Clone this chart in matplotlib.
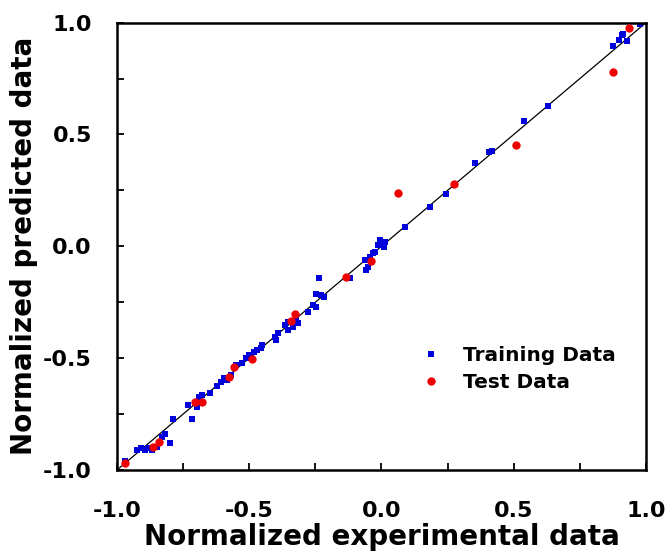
import numpy as np
import matplotlib
matplotlib.use('Agg')
import matplotlib.pyplot as plt
from matplotlib.ticker import MultipleLocator

plt.rcParams['font.family'] = ['DejaVu Sans']
plt.rcParams['font.weight'] = 'bold'

# training data (normalized experimental, normalized predicted)
train_x = [-0.970, -0.925, -0.910, -0.895, -0.884, -0.869, -0.850, -0.831, -0.820, -0.798,
           -0.790, -0.730, -0.715, -0.697, -0.689, -0.678, -0.648, -0.622, -0.607, -0.596,
           -0.584, -0.569, -0.551, -0.528, -0.513, -0.502, -0.494, -0.483, -0.472, -0.457,
           -0.453, -0.401, -0.390, -0.397, -0.363, -0.352, -0.352, -0.333, -0.322, -0.315,
           -0.277, -0.258, -0.247, -0.236, -0.247, -0.228, -0.217, -0.120, -0.064, -0.060,
           -0.052, -0.045, -0.034, -0.026, -0.015, -0.007, 0.004, 0.015, -0.004, 0.011,
           0.090, 0.184, 0.243, 0.352, 0.408, 0.416, 0.539, 0.629, 0.876, 0.899,
           0.910, 0.929, 0.914, 0.978]
train_y = [-0.960, -0.911, -0.902, -0.911, -0.902, -0.911, -0.897, -0.853, -0.839, -0.879,
           -0.772, -0.710, -0.772, -0.719, -0.674, -0.665, -0.656, -0.625, -0.607, -0.589,
           -0.598, -0.576, -0.531, -0.522, -0.500, -0.487, -0.487, -0.473, -0.464, -0.455,
           -0.442, -0.406, -0.388, -0.420, -0.353, -0.339, -0.375, -0.362, -0.321, -0.344,
           -0.295, -0.263, -0.272, -0.143, -0.214, -0.219, -0.228, -0.143, -0.063, -0.107,
           -0.094, -0.049, -0.031, -0.027, 0.004, 0.027, 0.013, 0.018, 0.004, -0.004,
           0.085, 0.174, 0.232, 0.371, 0.420, 0.424, 0.558, 0.625, 0.897, 0.924,
           0.946, 0.920, 0.951, 0.996]

# test data
test_x = [-0.970, -0.865, -0.843, -0.704, -0.678, -0.577, -0.558, -0.491, -0.341, -0.326,
          -0.135, -0.041, 0.064, 0.273, 0.509, 0.876, 0.936]
test_y = [-0.969, -0.897, -0.875, -0.696, -0.696, -0.585, -0.540, -0.504, -0.335, -0.304,
          -0.138, -0.067, 0.237, 0.277, 0.455, 0.781, 0.978]

fig = plt.figure(figsize=(6.7, 5.57), dpi=100)
ax = fig.add_axes([0.1746, 0.1562, 0.7896, 0.8032])

ax.plot([-1, 1], [-1, 1], color='black', lw=0.9, zorder=1)
ax.plot(train_x, train_y, 's', color='#0000dd', ms=5, mew=0, label='Training Data', zorder=2)
ax.plot(test_x, test_y, 'o', color='#ee0000', ms=6, mew=0, label='Test Data', zorder=3)

ax.set_xlim(-1, 1)
ax.set_ylim(-1, 1)
ax.xaxis.set_major_locator(MultipleLocator(0.5))
ax.yaxis.set_major_locator(MultipleLocator(0.5))
ax.xaxis.set_minor_locator(MultipleLocator(0.25))
ax.yaxis.set_minor_locator(MultipleLocator(0.25))
ax.xaxis.set_major_formatter(plt.FormatStrFormatter('%.1f'))
ax.yaxis.set_major_formatter(plt.FormatStrFormatter('%.1f'))
ax.tick_params(which='both', direction='in', length=5, width=1.3, labelsize=16)
ax.tick_params(axis='y', pad=18)
ax.tick_params(axis='x', pad=22)
for s in ax.spines.values():
    s.set_linewidth(1.8)

ax.set_xlabel('Normalized experimental data', fontsize=20, fontweight='bold', labelpad=2)
ax.set_ylabel('Normalized predicted data', fontsize=20, fontweight='bold', labelpad=4)

ax.legend(loc='upper left', bbox_to_anchor=(0.54, 0.318), frameon=False, fontsize=14.5,
          handletextpad=1.1, labelspacing=0.4, handlelength=1.0)

fig.savefig('out.png', dpi=100)
